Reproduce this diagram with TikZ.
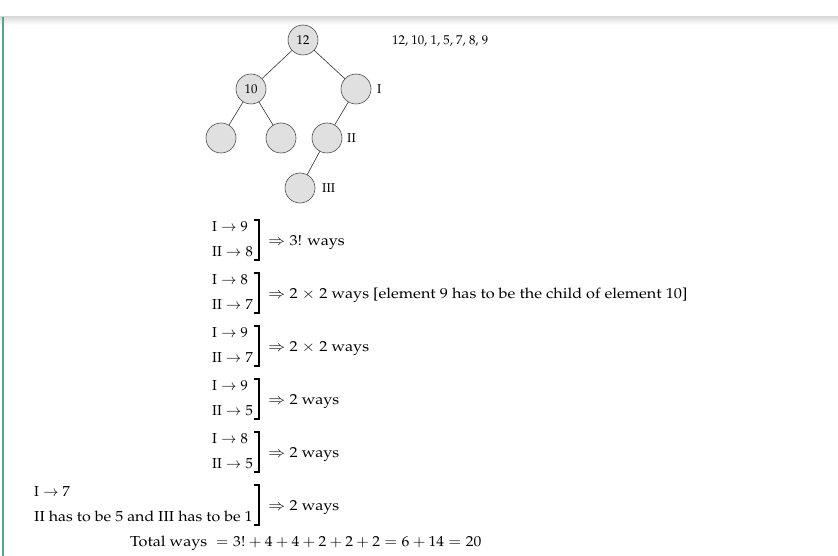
\documentclass[tikz,border=0pt]{standalone}
\usepackage[T1]{fontenc}
\usepackage{mathpazo}
\usepackage{graphicx}
\definecolor{nodefill}{gray}{0.88}
\definecolor{nodeline}{gray}{0.3}
\definecolor{sidebar}{RGB}{80,170,135}
\newcommand{\wx}[2][1.12]{\scalebox{#1}[1]{#2}}
\begin{document}
\begin{tikzpicture}[x=1pt,y=-1pt,
  tn/.style={circle,draw=nodeline,fill=nodefill,minimum size=30pt,inner sep=0pt,line width=0.6pt,font=\fontsize{12.8}{14}\selectfont},
  edge/.style={draw=black!80,line width=0.6pt},
  txt/.style={anchor=base west,inner sep=0pt,font=\fontsize{14.5}{17}\selectfont},
  small/.style={anchor=base west,inner sep=0pt,font=\fontsize{12.8}{14}\selectfont},
  brk/.style={draw=black,line width=1.1pt}]
\useasboundingbox (0,0) rectangle (838,556);
\fill[white] (0,0) rectangle (838,556);
\shade[top color=black!14,bottom color=white] (0,17) rectangle (838,25);
\draw[sidebar,line width=1.5pt] (3,17) -- (3,556);
% tree
\node[tn] (n12) at (303,40) {12};
\node[tn] (n10) at (251,89) {10};
\node[tn] (nI) at (356,89) {};
\node[tn] (l1) at (221,138) {};
\node[tn] (l2) at (281,138) {};
\node[tn] (nII) at (327,138) {};
\node[tn] (nIII) at (300,188) {};
\draw[edge] (n12) -- (n10);
\draw[edge] (n12) -- (nI);
\draw[edge] (n10) -- (l1);
\draw[edge] (n10) -- (l2);
\draw[edge] (nI) -- (nII);
\draw[edge] (nII) -- (nIII);
\node[small] (lI) at (377,93.5) {I};
\node[small] (lII) at (347,142.5) {II};
\node[small] (lIII) at (322,192.5) {III};
\node[small] (seq) at (392,44.5) {12, 10, 1, 5, 7, 8, 9};
% rows
\foreach \k/\a/\b/\r in {0/9/8/{3! ways},
  1/8/7/{2 $\times$ 2 ways [element 9 has to be the child of element 10]},
  2/9/7/{2 $\times$ 2 ways},
  3/9/5/{2 ways},
  4/8/5/{2 ways}} {
  \node[txt] (a\k) at (212,231.5+53*\k) {$\mathrm{I}\rightarrow\a$};
  \node[txt] (b\k) at (212,256.5+53*\k) {$\mathrm{II}\rightarrow\b$};
  \node[txt] (r\k) at (268,245.5+53*\k) {\wx{$\Rightarrow$ \r}};
  \draw[brk] (254,220+53*\k) -- (259,220+53*\k) -- (259,260+53*\k) -- (254,260+53*\k);
}
\node[txt] (a5) at (34,496.5) {$\mathrm{I}\rightarrow 7$};
\node[txt] (b5) at (34,521.5) {\wx[1.1]{II has to be 5 and III has to be 1}};
\node[txt] (r5) at (268,510.5) {\wx{$\Rightarrow$ 2 ways}};
\draw[brk] (254,485) -- (259,485) -- (259,525) -- (254,525);
\node[txt] (tot1) at (130,546.5) {\wx{Total ways}};
\node[txt] (toteq) at (216,546.5) {$=$};
\node[txt] (tot2) at (233,546.5) {\wx[1.075]{$3!+4+4+2+2+2=6+14=20$}};
\end{tikzpicture}
\end{document}
